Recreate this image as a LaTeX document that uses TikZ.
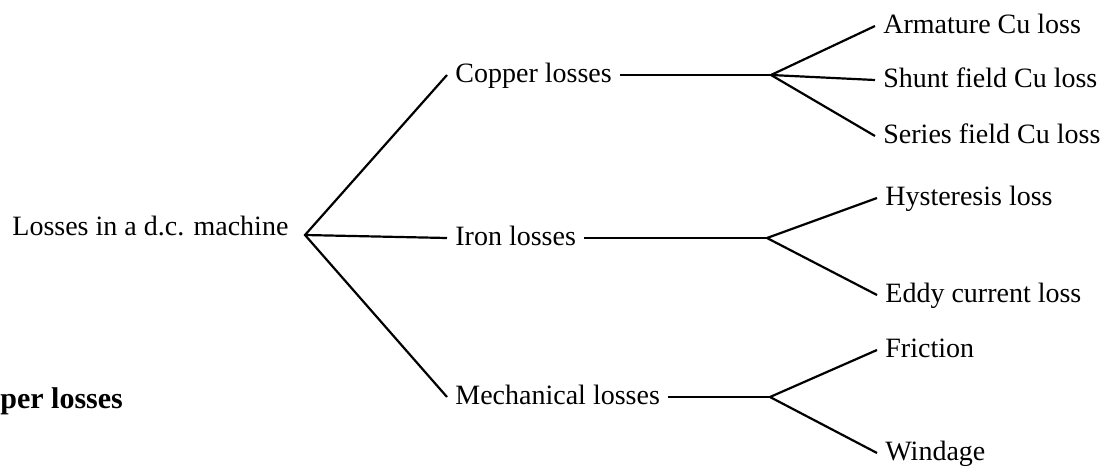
\documentclass[tikz,border=0pt]{standalone}
\usepackage{fontspec}
\setmainfont{Liberation Serif}
\usetikzlibrary{positioning}
\tikzset{
  lbl/.style={anchor=base west, inner xsep=4pt, inner ysep=2pt,
    text height=9.5pt, text depth=2.5pt, font=\fontsize{14}{16}\selectfont},
  fork/.style={line width=1.1pt},
}

\begin{document}
\begin{tikzpicture}[x=0.5pt, y=-0.5pt]
    \useasboundingbox (0, 0) rectangle (1114, 466);

    \node [lbl] (losses) at (4, 235) {Losses in a d.c. machine};
    \node [lbl] (copper) at (447, 82) {Copper losses};
    \node [lbl] (iron) at (447, 245) {Iron losses};
    \node [lbl] (mech) at (447, 404) {Mechanical losses};

    \node [lbl] (armature) at (875, 33) {Armature Cu loss};
    \node [lbl] (shunt) at (875, 87) {Shunt field Cu loss};
    \node [lbl] (series) at (875, 143) {Series field Cu loss};
    \node [lbl] (hyst) at (877, 205) {Hysteresis loss};
    \node [lbl] (eddy) at (877, 302) {Eddy current loss};
    \node [lbl] (friction) at (877, 357) {Friction};
    \node [lbl] (windage) at (877, 460) {Windage};

    \node [anchor=base west, inner sep=0pt, font=\bfseries\fontsize{15}{18}\selectfont]
      (perlosses) at (0, 408) {per losses};

    \coordinate (lossesfork) at (305, 235);
    \coordinate (copperfork) at (771, 75);
    \coordinate (ironfork) at (767, 238);
    \coordinate (mechfork) at (770, 397);

    \draw [fork] (copper.west) -- (lossesfork) -- (mech.west);
    \draw [fork] (lossesfork) -- (iron.west);

    \draw [fork] (copper.east) -- (copperfork);
    \draw [fork] (armature.west) -- (copperfork) -- (series.west);
    \draw [fork] (copperfork) -- (shunt.west);

    \draw [fork] (iron.east) -- (ironfork);
    \draw [fork] (hyst.west) -- (ironfork) -- (eddy.west);

    \draw [fork] (mech.east) -- (mechfork);
    \draw [fork] (friction.west) -- (mechfork) -- (windage.west);
\end{tikzpicture}
\end{document}
